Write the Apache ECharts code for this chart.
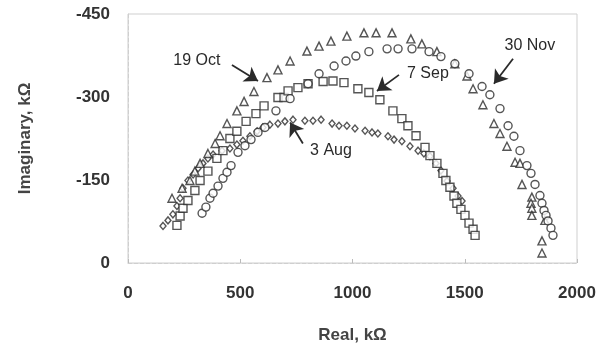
<!DOCTYPE html>
<html>
<head>
<meta charset="utf-8">
<script src="https://cdn.jsdelivr.net/npm/echarts@6/dist/echarts.min.js"></script>
<style>
html,body{margin:0;padding:0;background:#fff;}
#chart{width:601px;height:349px;}
</style>
</head>
<body>
<div id="chart"></div>
<script>
// impedance data, [real, imaginary] in kOhm
var aug3 = [[156,-67],[178,-77],[200,-88],[218,-103],[232,-117],[245,-135],[267,-149],[290,-160],[312,-171],[334,-180],[356,-189],[379,-196],[419,-203],[454,-207],[485,-214],[512,-221],[543,-229],[575,-238],[601,-245],[632,-250],[668,-252],[699,-256],[735,-259],[788,-257],[824,-257],[860,-259],[909,-252],[940,-248],[975,-248],[1011,-243],[1056,-239],[1087,-236],[1113,-234],[1158,-229],[1185,-223],[1220,-220],[1256,-211],[1292,-203],[1318,-198],[1345,-193],[1372,-180],[1394,-167],[1421,-148],[1448,-135],[1470,-121],[1488,-112]];
var sep7 = [[218,-68],[232,-85],[245,-99],[267,-113],[298,-131],[321,-149],[356,-166],[396,-189],[423,-203],[454,-225],[485,-238],[526,-256],[570,-270],[606,-284],[668,-299],[695,-299],[713,-311],[757,-317],[802,-324],[869,-328],[913,-329],[962,-326],[1024,-315],[1073,-308],[1122,-295],[1180,-275],[1220,-261],[1247,-248],[1283,-230],[1323,-209],[1345,-194],[1376,-180],[1403,-162],[1416,-149],[1434,-137],[1452,-121],[1465,-108],[1483,-97],[1501,-86],[1519,-72],[1537,-61],[1546,-50]];
var oct19 = [[196,-117],[241,-135],[276,-149],[298,-166],[321,-180],[356,-198],[388,-216],[410,-230],[441,-252],[485,-275],[517,-292],[561,-310],[619,-335],[668,-349],[722,-365],[797,-383],[851,-392],[904,-401],[975,-410],[1051,-416],[1105,-416],[1176,-416],[1260,-405],[1309,-396],[1376,-382],[1456,-360],[1510,-338],[1537,-315],[1581,-286],[1630,-252],[1657,-234],[1688,-211],[1724,-182],[1746,-180],[1755,-142],[1799,-119],[1795,-108],[1799,-99],[1799,-86],[1857,-77],[1844,-40],[1844,-18]];
var nov30 = [[330,-90],[347,-101],[365,-117],[379,-126],[401,-139],[423,-153],[441,-164],[459,-176],[490,-200],[521,-212],[548,-223],[579,-236],[610,-245],[659,-275],[722,-297],[802,-324],[851,-342],[918,-356],[971,-365],[1015,-374],[1073,-382],[1154,-387],[1203,-387],[1265,-387],[1341,-382],[1394,-373],[1456,-360],[1519,-342],[1577,-319],[1612,-304],[1657,-279],[1693,-248],[1719,-229],[1746,-203],[1777,-176],[1795,-162],[1813,-142],[1835,-122],[1844,-108],[1853,-95],[1862,-86],[1871,-76],[1884,-63],[1893,-50]];

var xTicks = [0, 500, 1000, 1500, 2000];
var yTicks = [-450, -300, -150, 0];

// annotation text + arrows (data coords)
var noteNames = ['19 Oct', '7 Sep', '30 Nov', '3 Aug'];
var notePos = [[307,-365],[1336,-342],[1790,-392],[904,-203]];
var arrowFrom = [[463,-358],[1207,-340],[1715,-369],[779,-216]];
var arrowTo = [[579,-329],[1109,-311],[1630,-324],[722,-254]];

var ink = '#2a2a2a';
var font = 'Liberation Sans, Arial, sans-serif';
function mk(name, data, sym, size){
    return {
        name:name, type:'scatter', data:data,
        symbol:sym, symbolSize:size,
        itemStyle:{color:'#fff', borderColor:ink, borderWidth:1.4},
        silent:true
    };
}

var chart = echarts.init(document.getElementById('chart'));
var series = [
    mk('3 Aug', aug3, 'diamond', [6,7]),
    mk('7 Sep', sep7, 'rect', 8),
    mk('19 Oct', oct19, 'triangle', 8),
    mk('30 Nov', nov30, 'circle', 8)
];
series.push({
    name:'notes', type:'scatter', data:[], silent:true,
    markLine:{
        silent:true, animation:false,
        symbol:['none','arrow'], symbolSize:13,
        lineStyle:{color:ink, width:1.8, type:'solid'},
        itemStyle:{color:ink},
        label:{show:false},
        data:arrowFrom.map(function(p,i){ return [{coord:p},{coord:arrowTo[i]}]; })
    },
    markPoint:{
        silent:true, animation:false,
        symbol:'circle', symbolSize:0,
        label:{show:true, position:'inside', color:ink, fontSize:16, fontFamily:font,
               formatter:function(p){ return p.name; }},
        data:notePos.map(function(p,i){ return {name:noteNames[i], coord:p}; })
    }
});

var option = {
    animation:false,
    grid:{left:128, right:24, top:14, bottom:84, show:true, borderColor:'#cfcfcf', borderWidth:1},
    xAxis:{
        type:'value', min:xTicks[0], max:xTicks[xTicks.length-1], interval:500,
        name:'Real, kΩ', nameLocation:'middle', nameGap:64,
        nameTextStyle:{fontSize:17, fontWeight:'bold', color:'#444', fontFamily:font},
        axisLine:{lineStyle:{color:'#cfcfcf', type:'dashed'}},
        axisTick:{show:true, inside:true, length:4, lineStyle:{color:'#bbb'}},
        axisLabel:{fontSize:17, fontWeight:'bold', color:'#333', margin:22, fontFamily:font,
                   formatter:function(v){ return String(v); }},
        splitLine:{show:false}
    },
    yAxis:{
        type:'value', inverse:true, min:yTicks[0], max:yTicks[yTicks.length-1], interval:150,
        name:'Imaginary, kΩ', nameLocation:'middle', nameGap:94, nameRotate:90,
        nameTextStyle:{fontSize:17, fontWeight:'bold', color:'#444', fontFamily:font},
        axisLine:{lineStyle:{color:'#cfcfcf', type:'dashed'}},
        axisTick:{show:false},
        axisLabel:{fontSize:17, fontWeight:'bold', color:'#333', margin:18, fontFamily:font,
                   formatter:function(v){ return String(v); }},
        splitLine:{show:false}
    },
    series:series
};
chart.setOption(option);
</script>
</body>
</html>
